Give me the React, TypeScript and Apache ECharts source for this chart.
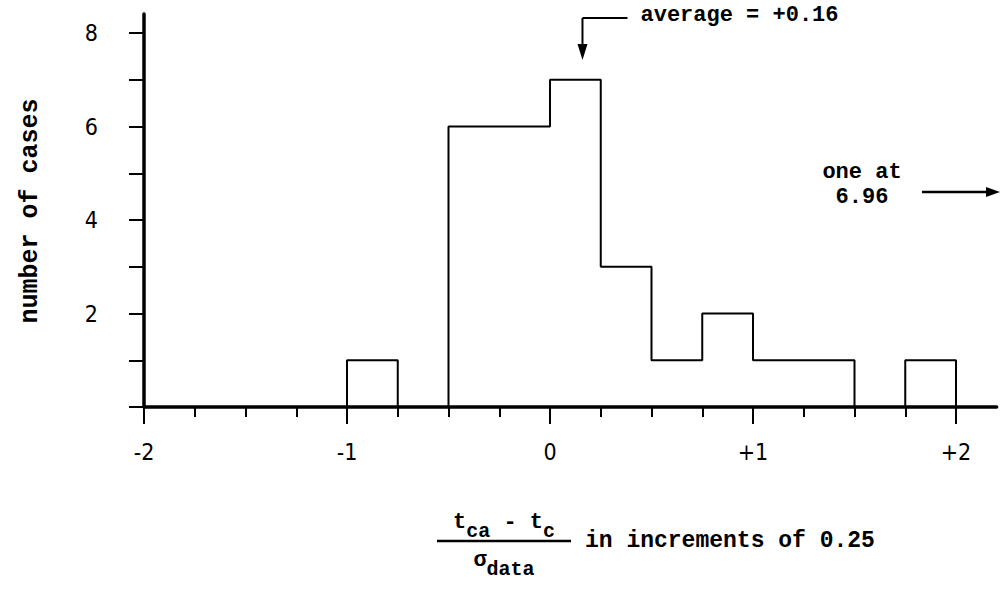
import React, { useEffect, useRef } from "react";
import * as echarts from "echarts";

// Histogram bins (left edges, width 0.25) and number of cases per bin
const binLefts = [-1, -0.5, -0.25, 0, 0.25, 0.5, 0.75, 1, 1.25, 1.75];
const binCounts = [1, 6, 6, 7, 3, 1, 2, 1, 1, 1];
const binWidth = 0.25;
const averageValue = 0.16;
const outlierValue = 6.96;
const xTickLabels = ["-2", "-1", "0", "+1", "+2"];
const yTickValues = [2, 4, 6, 8];

const MONO = '"Liberation Mono", "DejaVu Sans Mono", monospace';
const SANS = '"Liberation Sans Narrow", "DejaVu Sans Condensed", "Liberation Sans", sans-serif';

function outlineSegments(): number[][][] {
  const segs: number[][][] = [];
  let cur: number[][] | null = null;
  let prevRight = NaN;
  binLefts.forEach((l, i) => {
    const c = binCounts[i];
    const r = l + binWidth;
    if (cur && Math.abs(l - prevRight) < 1e-9) {
      cur.push([l, c], [r, c]);
    } else {
      if (cur) {
        cur.push([prevRight, 0]);
        segs.push(cur);
      }
      cur = [[l, 0], [l, c], [r, c]];
    }
    prevRight = r;
  });
  if (cur) {
    (cur as number[][]).push([prevRight, 0]);
    segs.push(cur);
  }
  return segs;
}

export default function App() {
  const ref = useRef<HTMLDivElement>(null);
  useEffect(() => {
    if (!ref.current) return;
    const chart = echarts.init(ref.current, undefined, { renderer: "svg" });
    const black = "#000";
    const segs = outlineSegments();
    chart.setOption({
      animation: false,
      backgroundColor: "#fff",
      grid: [
        { left: 144, top: 14, width: 852.6, height: 393 },
        { left: 144, top: 33, width: 812, height: 374 },
      ],
      xAxis: [
        {
          gridIndex: 0, type: "value", min: -2, max: 2.2,
          axisLine: { show: true, onZero: false, lineStyle: { color: black, width: 3.5 } },
          axisTick: { show: false }, axisLabel: { show: false }, splitLine: { show: false },
        },
        {
          gridIndex: 1, type: "value", min: -2, max: 2, interval: 1,
          axisLine: { show: false, onZero: false },
          axisTick: { show: true, length: 17, lineStyle: { color: black, width: 2 } },
          minorTick: { show: true, splitNumber: 4, length: 10, lineStyle: { color: black, width: 2 } },
          axisLabel: {
            margin: 33, fontSize: 23, fontFamily: SANS, color: black,
            formatter: (v: number) => xTickLabels[Math.round(v + 2)] ?? "",
          },
          splitLine: { show: false }, minorSplitLine: { show: false },
        },
      ],
      yAxis: [
        {
          gridIndex: 0, type: "value", min: 0, max: 8.4,
          axisLine: { show: true, onZero: false, lineStyle: { color: black, width: 3.5 } },
          axisTick: { show: false }, axisLabel: { show: false }, splitLine: { show: false },
        },
        {
          gridIndex: 1, type: "value", min: 0, max: 8, interval: 1,
          axisLine: { show: false, onZero: false },
          axisTick: { show: true, length: 15, lineStyle: { color: black, width: 2 } },
          axisLabel: {
            margin: 46, fontSize: 23, fontFamily: SANS, color: black,
            formatter: (v: number) => (yTickValues.includes(v) ? String(v) : ""),
          },
          splitLine: { show: false },
        },
      ],
      series: segs.map((s) => ({
        type: "line", xAxisIndex: 1, yAxisIndex: 1, data: s, symbol: "none",
        clip: false, silent: true,
        lineStyle: { color: black, width: 2 },
      })),
    });

    const avgX = chart.convertToPixel({ xAxisIndex: 1 }, averageValue) as number;
    const tStyle = { fontSize: 22, fontFamily: MONO, fontWeight: "bold", lineHeight: 30, verticalAlign: "top" };
    const sStyle = { fontSize: 20, fontFamily: MONO, fontWeight: "bold", lineHeight: 30, verticalAlign: "bottom" };
    const mono = (extra: object) => ({ fontSize: 22, fontFamily: MONO, fontWeight: "bold", fill: black, ...extra });
    chart.setOption({
      graphic: [
        // average annotation
        { type: "line", shape: { x1: avgX, y1: 18, x2: avgX + 45, y2: 18 }, style: { stroke: black, lineWidth: 2 } },
        { type: "line", shape: { x1: avgX, y1: 18, x2: avgX, y2: 48 }, style: { stroke: black, lineWidth: 2 } },
        { type: "polygon", shape: { points: [[avgX - 5, 44], [avgX + 5, 44], [avgX, 60]] }, style: { fill: black } },
        {
          type: "text", x: avgX + 58, y: 15,
          style: mono({ text: `average = +${averageValue.toFixed(2)}`, verticalAlign: "middle", align: "left" }),
        },
        // outlier annotation
        {
          type: "text", x: 862, y: 172,
          style: mono({ text: "one at", align: "center", verticalAlign: "middle" }),
        },
        {
          type: "text", x: 862, y: 197,
          style: mono({ text: outlierValue.toFixed(2), align: "center", verticalAlign: "middle" }),
        },
        { type: "line", shape: { x1: 922, y1: 192, x2: 990, y2: 192 }, style: { stroke: black, lineWidth: 2.5 } },
        { type: "polygon", shape: { points: [[986, 187], [986, 197], [1000, 192]] }, style: { fill: black } },
        // y axis title
        {
          type: "text", x: 30, y: 211, rotation: Math.PI / 2,
          style: mono({ text: "number of cases", fontSize: 25, align: "center", verticalAlign: "middle" }),
        },
        // x axis title: fraction
        {
          type: "text", x: 504, y: 511,
          style: {
            text: "{t|t}{s|ca}{t| - t}{s|c}", align: "center", verticalAlign: "top", fill: black,
            rich: { t: tStyle, s: sStyle },
          },
        },
        { type: "line", shape: { x1: 437, y1: 541, x2: 571, y2: 541 }, style: { stroke: black, lineWidth: 2.5 } },
        {
          type: "text", x: 504, y: 549,
          style: {
            text: "{t|\u03c3}{s|data}", align: "center", verticalAlign: "top", fill: black,
            rich: { t: tStyle, s: sStyle },
          },
        },
        {
          type: "text", x: 585, y: 541,
          style: mono({ text: "in increments of 0.25", fontSize: 23, align: "left", verticalAlign: "middle" }),
        },
      ],
    });
    return () => chart.dispose();
  }, []);
  return (
    <div
      ref={ref}
      style={{ position: "fixed", left: 0, top: 0, width: 1001, height: 592, background: "#fff" }}
    />
  );
}
